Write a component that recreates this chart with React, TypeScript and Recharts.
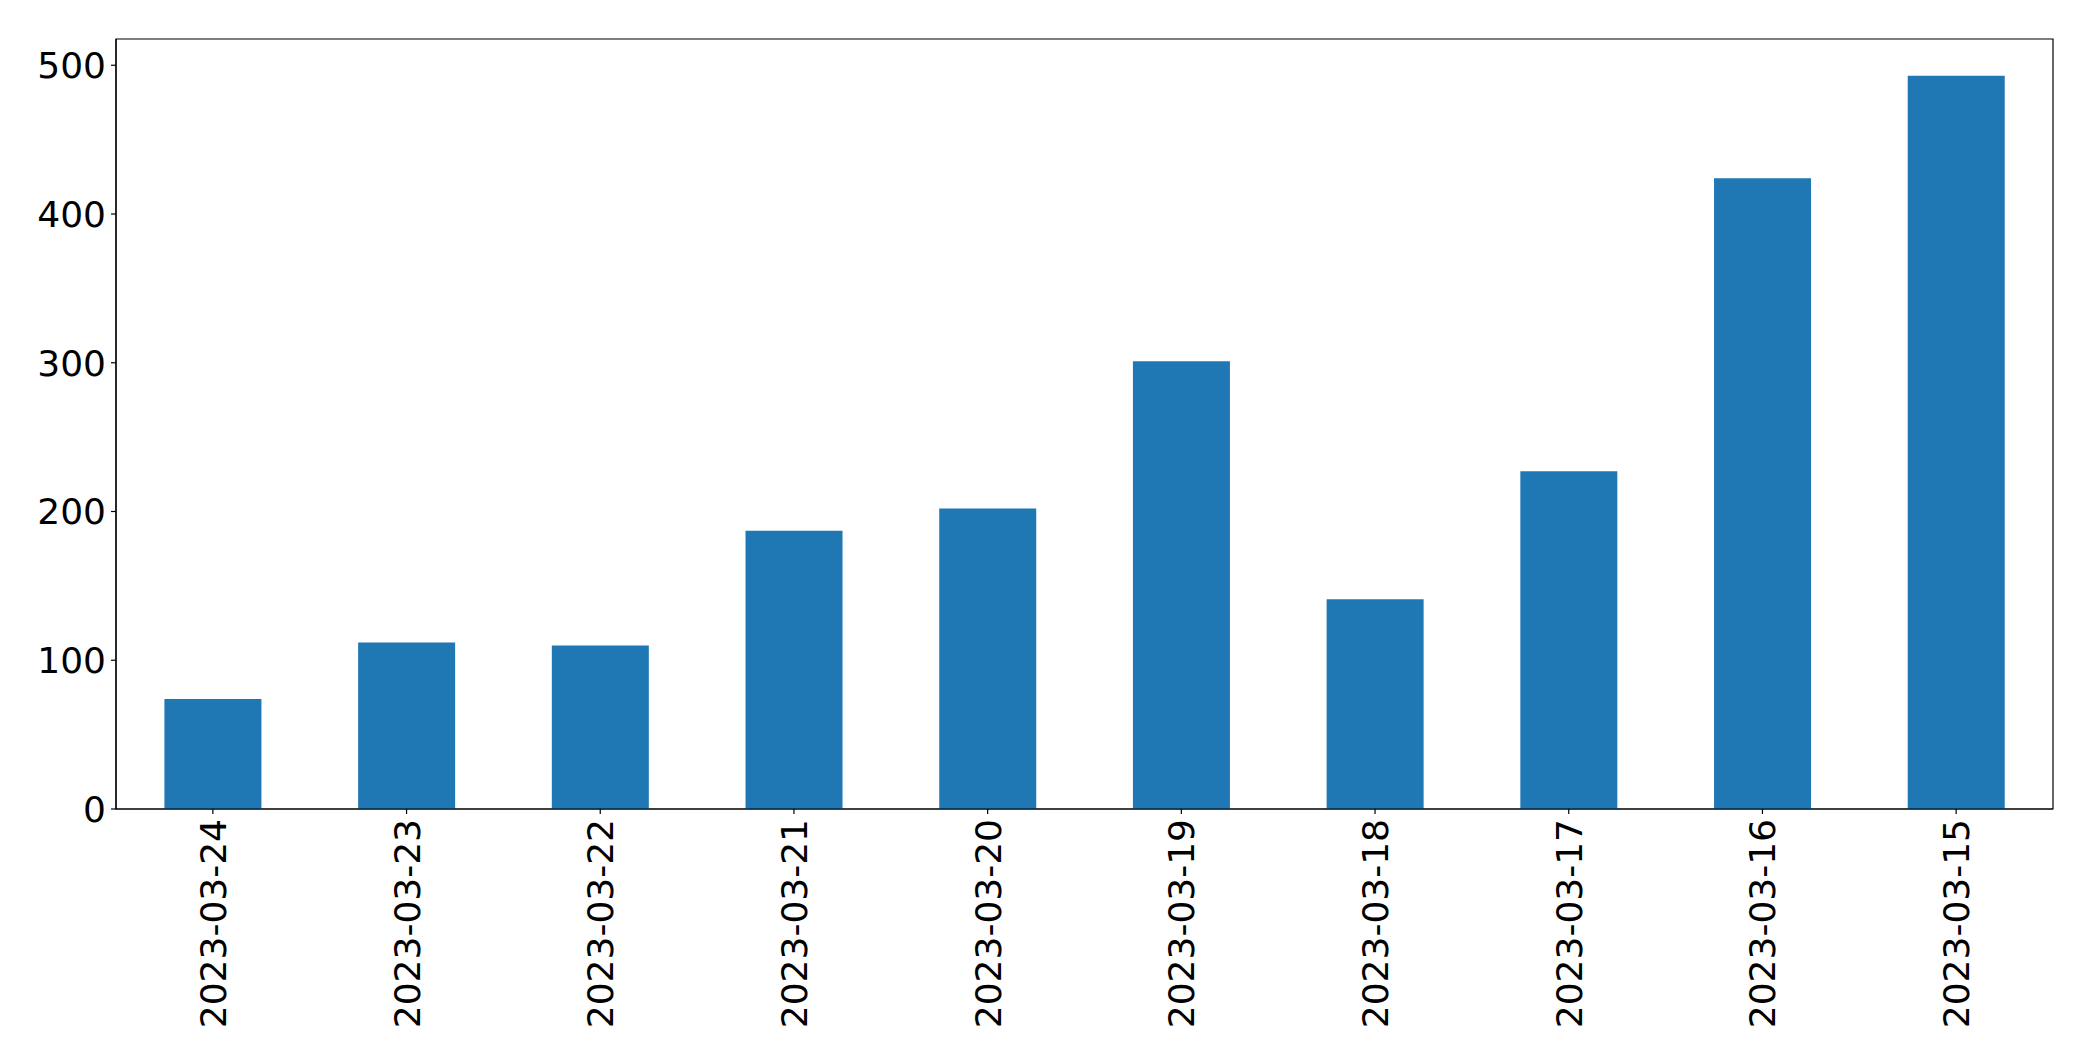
import React from 'react';
import { BarChart, Bar, XAxis, YAxis, ReferenceArea } from 'recharts';

const dates = [
  '2023-03-24', '2023-03-23', '2023-03-22', '2023-03-21', '2023-03-20',
  '2023-03-19', '2023-03-18', '2023-03-17', '2023-03-16', '2023-03-15',
];
const counts = [74, 112, 110, 187, 202, 301, 141, 227, 424, 493];
const yTicks = [0, 100, 200, 300, 400, 500];
const yMax = 517.65;

const data = dates.map((d, i) => ({ date: d, count: counts[i] }));

const FONT = 'DejaVu Sans';

const XTick = (props: any) => {
  const { x, y, payload } = props;
  return (
    <text
      x={x}
      y={y}
      transform={`rotate(-90, ${x}, ${y})`}
      textAnchor="end"
      dy="0.36em"
      fontSize={36}
      fontFamily={FONT}
      fill="#000"
    >
      {payload.value}
    </text>
  );
};

const YTick = (props: any) => {
  const { x, y, payload } = props;
  return (
    <text
      x={x}
      y={y}
      textAnchor="end"
      dy="0.36em"
      fontSize={36}
      fontFamily={FONT}
      fill="#000"
    >
      {payload.value}
    </text>
  );
};

export default function App() {
  return (
    <div style={{ position: 'absolute', left: 0, top: 0, background: '#fff' }}>
      <BarChart
        width={2093}
        height={1061}
        data={data}
        margin={{ top: 39, right: 40, left: 0, bottom: 0 }}
        barCategoryGap="25%"
      >
        <XAxis
          dataKey="date"
          interval={0}
          height={252}
          tickSize={5}
          tickMargin={5}
          tick={<XTick />}
          axisLine={{ stroke: '#000', strokeWidth: 1.2 }}
          tickLine={{ stroke: '#000', strokeWidth: 1.2 }}
        />
        <YAxis
          width={116}
          domain={[0, yMax]}
          ticks={yTicks}
          allowDataOverflow
          tickSize={5}
          tickMargin={5}
          tick={<YTick />}
          axisLine={{ stroke: '#000', strokeWidth: 1.2 }}
          tickLine={{ stroke: '#000', strokeWidth: 1.2 }}
        />
        <Bar dataKey="count" fill="#1f77b4" isAnimationActive={false} />
        <ReferenceArea
          y1={0}
          y2={yMax}
          fill="none"
          fillOpacity={0}
          stroke="#000"
          strokeWidth={1.2}
          ifOverflow="visible"
        />
      </BarChart>
    </div>
  );
}
